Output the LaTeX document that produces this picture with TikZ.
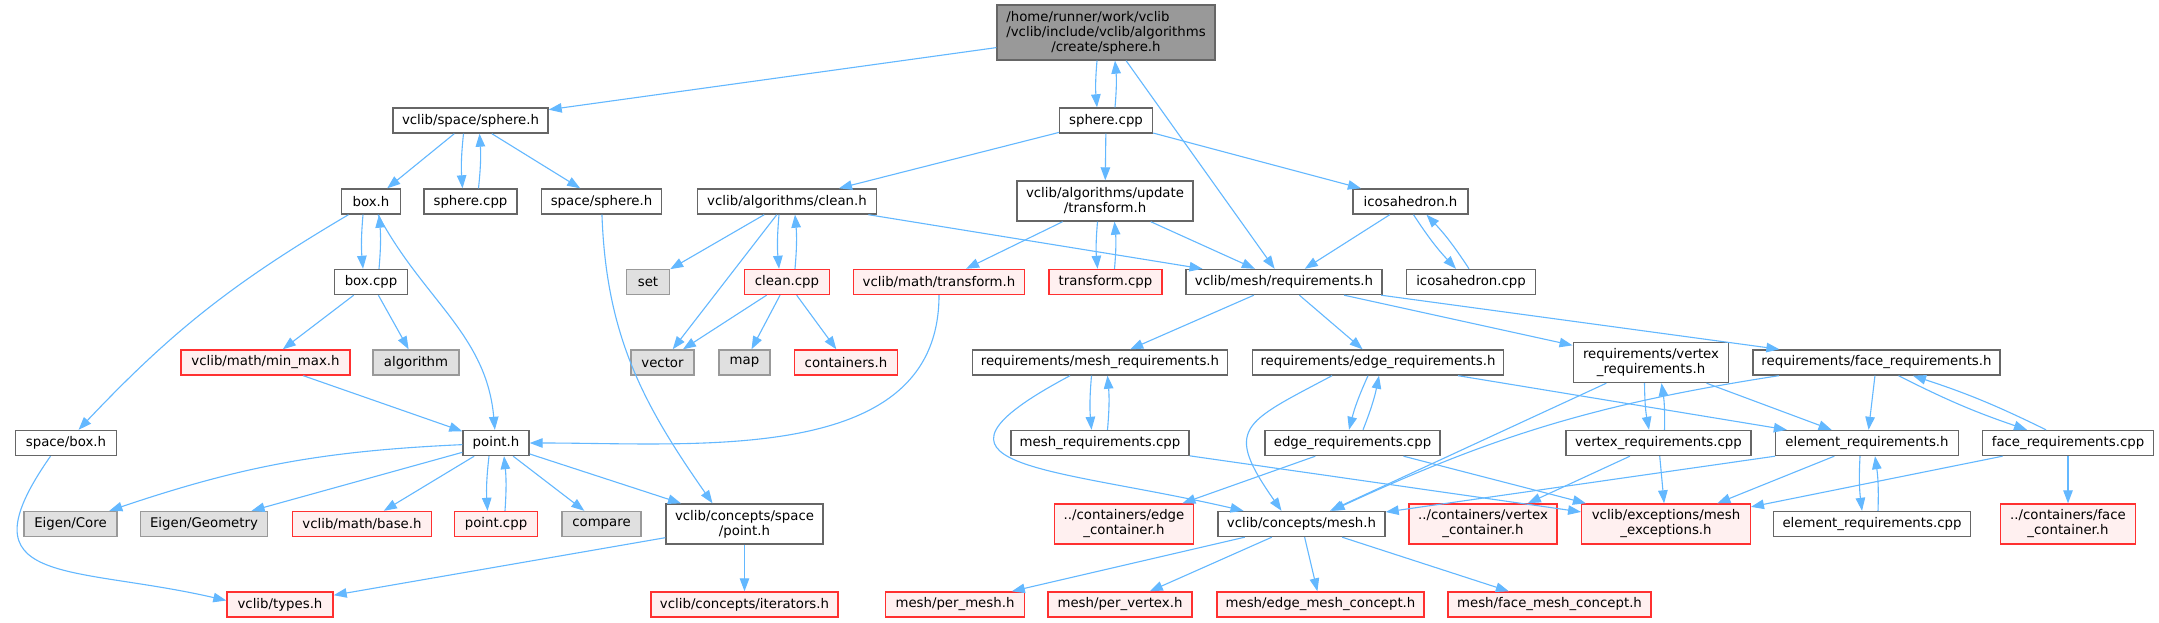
\documentclass[tikz,border=0pt]{standalone}
\usepackage{fontspec}
\setmainfont{DejaVu Sans}
\usepackage{tikz}
\usetikzlibrary{arrows.meta, positioning}

\definecolor{edgeblue}{HTML}{63B8FF}
\definecolor{nodegray}{HTML}{666666}
\definecolor{sysgray}{HTML}{999999}
\definecolor{sysfill}{HTML}{E0E0E0}
\definecolor{missred}{HTML}{FF3030}
\definecolor{missfill}{HTML}{FFF0F0}
\definecolor{rootfill}{HTML}{999999}

\begin{document}
\begin{tikzpicture}[
    x=1pt, y=1pt,
    file/.style={rectangle, draw=nodegray, fill=white, line width=1.4pt, inner sep=0pt, minimum height=25pt, font=\fontsize{13.3}{15}\selectfont, align=center},
    root/.style={file, fill=rootfill, minimum height=55pt},
    sys/.style={file, draw=sysgray, fill=sysfill},
    miss/.style={file, draw=missred, fill=missfill},
    tall/.style={minimum height=40pt},
    arr/.style={draw=edgeblue, line width=1.1pt, -{Triangle[length=13pt, width=9.5pt]}}
]
\fill[white] (0,0) rectangle (2159,-623);
\useasboundingbox (0,0) rectangle (2159,-623);

% Root file
\node[root, minimum width=218pt] (root) at (1106,-32.5) {\rlap{/home/runner/work/vclib}\phantom{/vclib/include/vclib/algorithms}\\/vclib/include/vclib/algorithms\\/create/sphere.h};

% First level
\node[file, minimum width=155pt] (spsphere) at (470.5,-120.5) {vclib/space/sphere.h};
\node[file, minimum width=93pt] (sphcpp) at (1106,-120.5) {sphere.cpp};

% Second level
\node[file, minimum width=59pt] (boxh) at (371,-201.5) {box.h};
\node[file, minimum width=93pt] (sphcppb) at (470.5,-201.5) {sphere.cpp};
\node[file, minimum width=120pt] (spsphereb) at (601.5,-201.5) {space/sphere.h};
\node[file, minimum width=179.5pt] (cleanh) at (787,-201.5) {vclib/algorithms/clean.h};
\node[file, tall, minimum width=176pt] (updtrans) at (1105,-201) {vclib/algorithms/update\\/transform.h};
\node[file, minimum width=115pt] (icosah) at (1410.5,-201.5) {icosahedron.h};

% Third level
\node[file, minimum width=73.5pt] (boxcpp) at (371,-282) {box.cpp};
\node[sys, minimum width=43pt] (sset) at (648,-282) {set};
\node[miss, minimum width=85pt] (cleancpp) at (787,-282) {clean.cpp};
\node[miss, minimum width=171.5pt] (mathtrans) at (939,-282) {vclib/math/transform.h};
\node[miss, minimum width=113pt] (transcpp) at (1105.5,-282) {transform.cpp};
\node[file, minimum width=196pt] (meshreq) at (1284,-282) {vclib/mesh/requirements.h};
\node[file, minimum width=128.5pt] (icosacpp) at (1471,-282) {icosahedron.cpp};

% Fourth level
\node[miss, minimum width=169pt] (minmax) at (265.5,-362.5) {vclib/math/min\_max.h};
\node[sys, minimum width=86pt] (salgo) at (416,-362.5) {algorithm};
\node[sys, minimum width=63pt] (svector) at (662.5,-362.5) {vector};
\node[sys, minimum width=51pt] (smap) at (744.5,-362.5) {map};
\node[miss, minimum width=103pt] (contain) at (846,-362.5) {containers.h};
\node[file, minimum width=255.5pt] (meshreqh) at (1100,-362.5) {requirements/mesh\_requirements.h};
\node[file, minimum width=251.5pt] (edgereqh) at (1378,-362.5) {requirements/edge\_requirements.h};
\node[file, tall, minimum width=155.5pt] (vertreqh) at (1651,-362.5) {requirements/vertex\\\_requirements.h};
\node[file, minimum width=247pt] (facereqh) at (1876.5,-362.5) {requirements/face\_requirements.h};

% Fifth level
\node[file, minimum width=100.5pt] (spbox) at (66,-443) {space/box.h};
\node[file, minimum width=66pt] (pointh) at (496,-443) {point.h};
\node[file, minimum width=178pt] (meshreqcpp) at (1100,-443) {mesh\_requirements.cpp};
\node[file, minimum width=175pt] (edgereqcpp) at (1352.5,-443) {edge\_requirements.cpp};
\node[file, minimum width=185pt] (vertreqcpp) at (1658.5,-443) {vertex\_requirements.cpp};
\node[file, minimum width=183pt] (elemreqh) at (1867,-443) {element\_requirements.h};
\node[file, minimum width=170.5pt] (facereqcpp) at (2068,-443) {face\_requirements.cpp};

% Sixth level
\node[sys, minimum width=93pt] (ecore) at (70.5,-524) {Eigen/Core};
\node[sys, minimum width=126.5pt] (egeom) at (204,-524) {Eigen/Geometry};
\node[miss, minimum width=139pt] (mathbase) at (362,-524) {vclib/math/base.h};
\node[miss, minimum width=83pt] (pointcpp) at (496,-524) {point.cpp};
\node[sys, minimum width=79pt] (scompare) at (601.5,-524) {compare};
\node[file, tall, minimum width=157pt] (cptpoint) at (744.5,-524) {vclib/concepts/space\\/point.h};
\node[miss, tall, minimum width=138.5pt] (edgecont) at (1124,-524) {../containers/edge\\\_container.h};
\node[file, minimum width=167pt] (cptmesh) at (1301.5,-524) {vclib/concepts/mesh.h};
\node[miss, tall, minimum width=148pt] (vertcont) at (1483,-524) {../containers/vertex\\\_container.h};
\node[miss, tall, minimum width=168.5pt] (meshexc) at (1666,-524) {vclib/exceptions/mesh\\\_exceptions.h};
\node[file, minimum width=197.5pt] (elemreqcpp) at (1872,-524) {element\_requirements.cpp};
\node[miss, tall, minimum width=135pt] (facecont) at (2068,-524) {../containers/face\\\_container.h};

% Bottom level
\node[miss, minimum width=106pt] (types) at (280,-604.5) {vclib/types.h};
\node[miss, minimum width=187pt] (iterators) at (744.5,-604.5) {vclib/concepts/iterators.h};
\node[miss, minimum width=139pt] (permesh) at (955,-604.5) {mesh/per\_mesh.h};
\node[miss, minimum width=144pt] (pervert) at (1120,-604.5) {mesh/per\_vertex.h};
\node[miss, minimum width=207pt] (edgeconcept) at (1320.5,-604.5) {mesh/edge\_mesh\_concept.h};
\node[miss, minimum width=203pt] (faceconcept) at (1549.5,-604.5) {mesh/face\_mesh\_concept.h};

% Arrows from the root
\draw[arr] (root) -- (spsphere);
\draw[arr] ([xshift=-9pt]root.south) to[bend right=5] ([xshift=-9pt]sphcpp.north);
\draw[arr] ([xshift=9pt]sphcpp.north) to[bend right=5] ([xshift=9pt]root.south);
\draw[arr] (root) -- (meshreq);

% vclib/space/sphere.h
\draw[arr] (spsphere) -- (boxh);
\draw[arr] ([xshift=-7pt]spsphere.south) to[bend right=5] ([xshift=-8pt]sphcppb.north);
\draw[arr] ([xshift=8pt]sphcppb.north) to[bend right=5] ([xshift=9pt]spsphere.south);
\draw[arr] (spsphere) -- (spsphereb);

% box.h
\draw[arr] ([xshift=-8pt]boxh.south) to[bend right=5] ([xshift=-8pt]boxcpp.north);
\draw[arr] ([xshift=8pt]boxcpp.north) to[bend right=5] ([xshift=8pt]boxh.south);
\draw[arr] (boxh) to[bend right=8] (spbox);
\draw[arr] (boxh) to[out=-62, in=95] (pointh);
\draw[arr] (boxcpp) -- (minmax);
\draw[arr] (boxcpp) -- (salgo);
\draw[arr] (minmax) -- (pointh);
\draw[arr] (spsphereb) to[out=-88, in=125] ([xshift=-32pt]cptpoint.north);

% sphere.cpp
\draw[arr] (sphcpp) -- (cleanh);
\draw[arr] (sphcpp) -- (updtrans);
\draw[arr] (sphcpp) -- (icosah);

% clean.h
\draw[arr] (cleanh) -- (sset);
\draw[arr] (cleanh) -- (svector);
\draw[arr] ([xshift=-8pt]cleanh.south) to[bend right=5] ([xshift=-8pt]cleancpp.north);
\draw[arr] ([xshift=8pt]cleancpp.north) to[bend right=5] ([xshift=8pt]cleanh.south);
\draw[arr] (cleanh) -- (meshreq);
\draw[arr] (cleancpp) -- (svector);
\draw[arr] (cleancpp) -- (smap);
\draw[arr] (cleancpp) -- (contain);

% transform.h
\draw[arr] (updtrans) -- (mathtrans);
\draw[arr] ([xshift=-7.5pt]updtrans.south) to[bend right=5] ([xshift=-8pt]transcpp.north);
\draw[arr] ([xshift=9pt]transcpp.north) to[bend right=5] ([xshift=9.5pt]updtrans.south);
\draw[arr] (updtrans) -- (meshreq);
\draw[arr] (mathtrans) to[out=-90, in=0] (pointh);

% icosahedron.h
\draw[arr] (icosah) -- (meshreq);
\draw[arr] ([xshift=3pt]icosah.south) to[bend right=5] ([xshift=-15pt]icosacpp.north);
\draw[arr] ([xshift=-2pt]icosacpp.north) to[bend right=5] ([xshift=16pt]icosah.south);

% vclib/mesh/requirements.h
\draw[arr] (meshreq) -- (meshreqh);
\draw[arr] (meshreq) -- (edgereqh);
\draw[arr] (meshreq) -- (vertreqh);
\draw[arr] (meshreq) -- (facereqh);

% mesh requirements
\draw[arr] ([xshift=-8.5pt]meshreqh.south) to[bend right=5] ([xshift=-8.5pt]meshreqcpp.north);
\draw[arr] ([xshift=7.5pt]meshreqcpp.north) to[bend right=5] ([xshift=7.5pt]meshreqh.south);
\draw[arr] ([xshift=-30pt]meshreqh.south) to[out=-152, in=167, looseness=2.3] ([xshift=-58pt]cptmesh.north);
\draw[arr] (meshreqcpp) -- (meshexc);

% edge requirements
\draw[arr] ([xshift=-10pt]edgereqh.south) to[bend right=5] ([xshift=-3.5pt]edgereqcpp.north);
\draw[arr] ([xshift=10.5pt]edgereqcpp.north) to[bend right=5] ([xshift=1pt]edgereqh.south);
\draw[arr] ([xshift=-46pt]edgereqh.south) to[out=-152, in=125, looseness=1.8] ([xshift=-20pt]cptmesh.north);
\draw[arr] (edgereqh) -- (elemreqh);
\draw[arr] (edgereqcpp) -- (edgecont);
\draw[arr] (edgereqcpp) -- (meshexc);

% vertex requirements
\draw[arr] ([xshift=-6.5pt]vertreqh.south) to[bend right=5] ([xshift=-9.5pt]vertreqcpp.north);
\draw[arr] ([xshift=6pt]vertreqcpp.north) to[bend right=5] ([xshift=10.5pt]vertreqh.south);
\draw[arr] (vertreqh) -- (cptmesh);
\draw[arr] (vertreqh) -- (elemreqh);
\draw[arr] (vertreqcpp) -- (vertcont);
\draw[arr] (vertreqcpp) -- (meshexc);

% face requirements
\draw[arr] (facereqh) to[bend right=8] (cptmesh);
\draw[arr] (facereqh) -- (elemreqh);
\draw[arr] ([xshift=22pt]facereqh.south) to[bend right=4] ([xshift=-41pt]facereqcpp.north);
\draw[arr] ([xshift=-22pt]facereqcpp.north) to[bend right=4] ([xshift=36.5pt]facereqh.south);
\draw[arr] (facereqcpp) -- (meshexc);
\draw[arr] (facereqcpp) -- (facecont);

% element requirements
\draw[arr] (elemreqh) -- (cptmesh);
\draw[arr] (elemreqh) -- (meshexc);
\draw[arr] ([xshift=-7pt]elemreqh.south) to[bend right=5] ([xshift=-10pt]elemreqcpp.north);
\draw[arr] ([xshift=6pt]elemreqcpp.north) to[bend right=5] ([xshift=8pt]elemreqh.south);

% point.h
\draw[arr] (pointh) to[bend right=8] (ecore);
\draw[arr] (pointh) -- (egeom);
\draw[arr] (pointh) -- (mathbase);
\draw[arr] ([xshift=-7pt]pointh.south) to[bend right=5] ([xshift=-8.5pt]pointcpp.north);
\draw[arr] ([xshift=9pt]pointcpp.north) to[bend right=5] ([xshift=8pt]pointh.south);
\draw[arr] (pointh) -- (scompare);
\draw[arr] (pointh) -- (cptpoint);

% Bottom
\draw[arr] ([xshift=-15.5pt]spbox.south) to[out=-125, in=167, looseness=1.8] ([yshift=4pt]types.west);
\draw[arr] (cptpoint) -- (types);
\draw[arr] (cptpoint) -- (iterators);
\draw[arr] (cptmesh) -- (permesh);
\draw[arr] (cptmesh) -- (pervert);
\draw[arr] (cptmesh) -- (edgeconcept);
\draw[arr] (cptmesh) -- (faceconcept);
\end{tikzpicture}
\end{document}
